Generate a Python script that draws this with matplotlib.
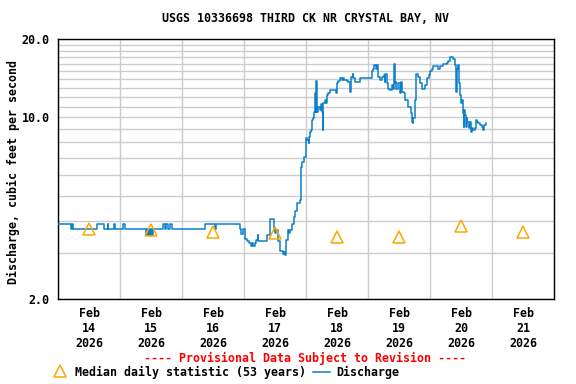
import pandas as pd
import matplotlib
matplotlib.use('Agg')
import matplotlib.pyplot as plt
import matplotlib.dates as mdates
from matplotlib.lines import Line2D
from matplotlib.ticker import FixedLocator, NullFormatter

# Discharge (cfs), hours after 2026-02-14 00:00, step breakpoints
hours = [0, 5.0, 5.5, 5.75, 15.0, 17.75, 19.25, 19.5, 21.75, 22.0, 25.25, 25.75,
         34.0, 34.5, 34.75, 35.25, 35.5, 36.0, 36.5, 36.75, 40.5, 41.5, 41.75, 42.5,
         43.5, 44.0, 57.0, 60.75, 61.0, 70.5, 71.0, 71.75, 72.5, 73.0, 73.75, 74.75,
         75.25, 75.5, 76.25, 76.75, 77.25, 77.5, 81.0, 82.25, 83.5, 84.0, 84.5, 85.0,
         85.25, 85.75, 87.0, 87.5, 88.0, 88.25, 89.0, 89.25, 89.75, 90.75, 91.5, 91.75,
         92.5, 93.75, 94.0, 94.25, 94.5, 95.25, 96.0, 96.25, 97.0, 97.25, 97.5, 98.0,
         98.25, 98.5, 98.75, 99.25, 99.5, 99.75, 100.0, 100.25, 100.75, 101.5, 101.75,
         102.25, 102.5, 102.75, 103.5, 103.75, 104.0, 104.5, 105.25, 107.5, 108.0,
         108.5, 109.25, 109.75, 110.25, 110.75, 111.75, 112.25, 113.0, 113.25, 113.5,
         114.0, 114.25, 115.0, 117.0, 121.5, 122.0, 122.5, 123.0, 123.5, 123.75, 124.0,
         124.75, 125.25, 126.0, 126.5, 126.75, 127.25, 127.75, 128.5, 129.25, 129.75,
         130.25, 130.5, 130.75, 131.0, 131.75, 132.5, 132.75, 133.0, 133.75, 134.25,
         135.5, 136.5, 137.0, 137.25, 137.5, 138.0, 138.25, 138.5, 138.75, 139.5,
         140.25, 140.75, 142.0, 142.75, 143.0, 143.5, 144.0, 144.75, 145.25, 147.25,
         148.0, 149.0, 150.75, 151.0, 151.75, 153.0, 153.5, 154.0, 154.5, 155.0,
         155.25, 155.5, 156.0, 156.25, 156.75, 157.0, 157.25, 157.5, 157.75, 158.25,
         158.5, 159.0, 159.5, 159.75, 160.25, 160.75, 161.5, 161.75, 162.25, 162.75,
         163.5, 164.0, 164.5, 164.75, 165.0, 165.5, 165.75]
cfs = [3.88, 3.71, 3.88, 3.71, 3.88, 3.71, 3.88, 3.71, 3.88, 3.71, 3.88, 3.71,
       3.53, 3.71, 3.53, 3.71, 3.53, 3.71, 3.53, 3.71, 3.88, 3.71, 3.88, 3.71,
       3.88, 3.71, 3.88, 3.71, 3.88, 3.71, 3.55, 3.71, 3.41, 3.35, 3.29, 3.20,
       3.27, 3.20, 3.27, 3.37, 3.53, 3.35, 3.53, 4.07, 3.69, 3.58, 3.69, 3.53,
       3.33, 3.06, 2.99, 3.04, 2.95, 3.37, 3.69, 3.58, 3.69, 3.88, 4.15, 4.37,
       4.67, 4.81, 4.95, 6.45, 6.75, 7.05, 8.30, 8.18, 7.94, 8.42, 8.80, 8.93,
       9.48, 9.76, 9.90, 10.5, 12.4, 10.5, 13.8, 10.5, 11.0, 10.7, 11.2,
       10.5, 8.93, 11.3, 11.7, 11.3, 12.2, 12.4, 12.7, 12.4, 13.5,
       13.8, 14.1, 13.9, 14.1, 13.9, 13.8, 13.7, 12.5, 13.5, 14.3,
       14.7, 14.1, 13.7, 14.1, 15.0, 15.3, 15.9, 15.4, 15.9, 15.4, 14.3,
       13.9, 14.3, 14.5, 13.7, 14.7, 13.5, 12.9, 12.7, 13.3, 12.9,
       16.0, 13.5, 13.7, 12.9, 13.5, 12.4, 13.7, 12.5, 12.4, 11.7,
       11.0, 10.4, 9.62, 9.48, 9.90, 10.5, 11.7, 13.1, 14.7, 14.3,
       13.5, 12.9, 13.3, 13.7, 14.1, 14.5, 15.0, 15.3, 15.7, 15.4,
       15.7, 16.0, 16.2, 16.5, 17.0, 16.7, 15.9, 12.5, 15.4, 15.9,
       13.5, 12.2, 11.3, 11.7, 10.4, 9.20, 10.7, 10.2, 9.20, 9.90,
       9.62, 9.07, 9.62, 8.80, 9.07, 8.93, 9.07, 9.76, 9.62, 9.48,
       9.34, 9.20, 8.93, 9.20, 9.34, 9.48, 9.48]

# Median daily statistic (53 years), one per day at noon
median_days = ['2026-02-14', '2026-02-15', '2026-02-16', '2026-02-17',
               '2026-02-18', '2026-02-19', '2026-02-20', '2026-02-21']
median_cfs = [3.72, 3.69, 3.62, 3.59, 3.46, 3.46, 3.82, 3.62]

line_color = '#0a80cc'
tri_color = '#ffa500'
font = dict(family='DejaVu Sans Mono', weight='bold', size=8.4)

start = pd.Timestamp('2026-02-14')
times = start + pd.to_timedelta(hours, unit='h')
med_times = pd.to_datetime(median_days) + pd.Timedelta(hours=12)

fig = plt.figure(figsize=(5.76, 3.84), dpi=100)
ax = fig.add_axes([58 / 576, 1 - 299 / 384, 496 / 576, 260 / 384])

ax.plot(times, cfs, drawstyle='steps-post', color=line_color, lw=1.1, zorder=3)
ax.plot(med_times, median_cfs, linestyle='none', marker='^', markersize=8,
        markerfacecolor='none', markeredgecolor=tri_color, markeredgewidth=1.1, zorder=4)

ax.set_yscale('log')
ax.set_ylim(2, 20)
ax.yaxis.set_major_locator(FixedLocator([2, 10, 20]))
ax.yaxis.set_minor_locator(FixedLocator([3, 4, 5, 6, 7, 8, 9, 11, 12, 13, 14, 15,
                                         16, 17, 18, 19]))
ax.yaxis.set_minor_formatter(NullFormatter())
ax.set_yticklabels(['2.0', '10.0', '20.0'], **font)

ax.set_xlim(start, start + pd.Timedelta(days=8))
ax.set_xticks(med_times)
ax.set_xticklabels([f"Feb\n{d.day}\n2026" for d in med_times], linespacing=1.2, **font)
ax.xaxis.set_minor_locator(mdates.DayLocator())

ax.grid(axis='y', which='both', color='#cccccc', lw=1)
ax.grid(axis='x', which='minor', color='#cccccc', lw=1)
ax.set_axisbelow(True)
ax.tick_params(which='both', length=0, pad=6)
for s in ax.spines.values():
    s.set_color('black')
    s.set_linewidth(1)

fig.text(13 / 576, 1 - 172 / 384, 'Discharge, cubic feet per second', rotation=90,
         ha='center', va='center', **font)
fig.text(306 / 576, 1 - 19 / 384, 'USGS 10336698 THIRD CK NR CRYSTAL BAY, NV',
         ha='center', va='center', **font)
fig.text(305 / 576, 1 - 358 / 384, '---- Provisional Data Subject to Revision ----',
         ha='center', va='center', color='red', **font)

# Legend row, drawn by hand in figure coordinates
ly = 1 - 372 / 384
fig.add_artist(Line2D([60 / 576], [ly + 1 / 384], transform=fig.transFigure,
                      linestyle='none', marker='^', markersize=8, markerfacecolor='none',
                      markeredgecolor=tri_color, markeredgewidth=1.1))
fig.text(75 / 576, ly, 'Median daily statistic (53 years)', ha='left', va='center', **font)
fig.add_artist(Line2D([313 / 576, 330 / 576], [ly, ly], transform=fig.transFigure,
                      color=line_color, lw=1.1))
fig.text(336 / 576, ly, 'Discharge', ha='left', va='center', **font)

fig.savefig('out.png', dpi=100)
